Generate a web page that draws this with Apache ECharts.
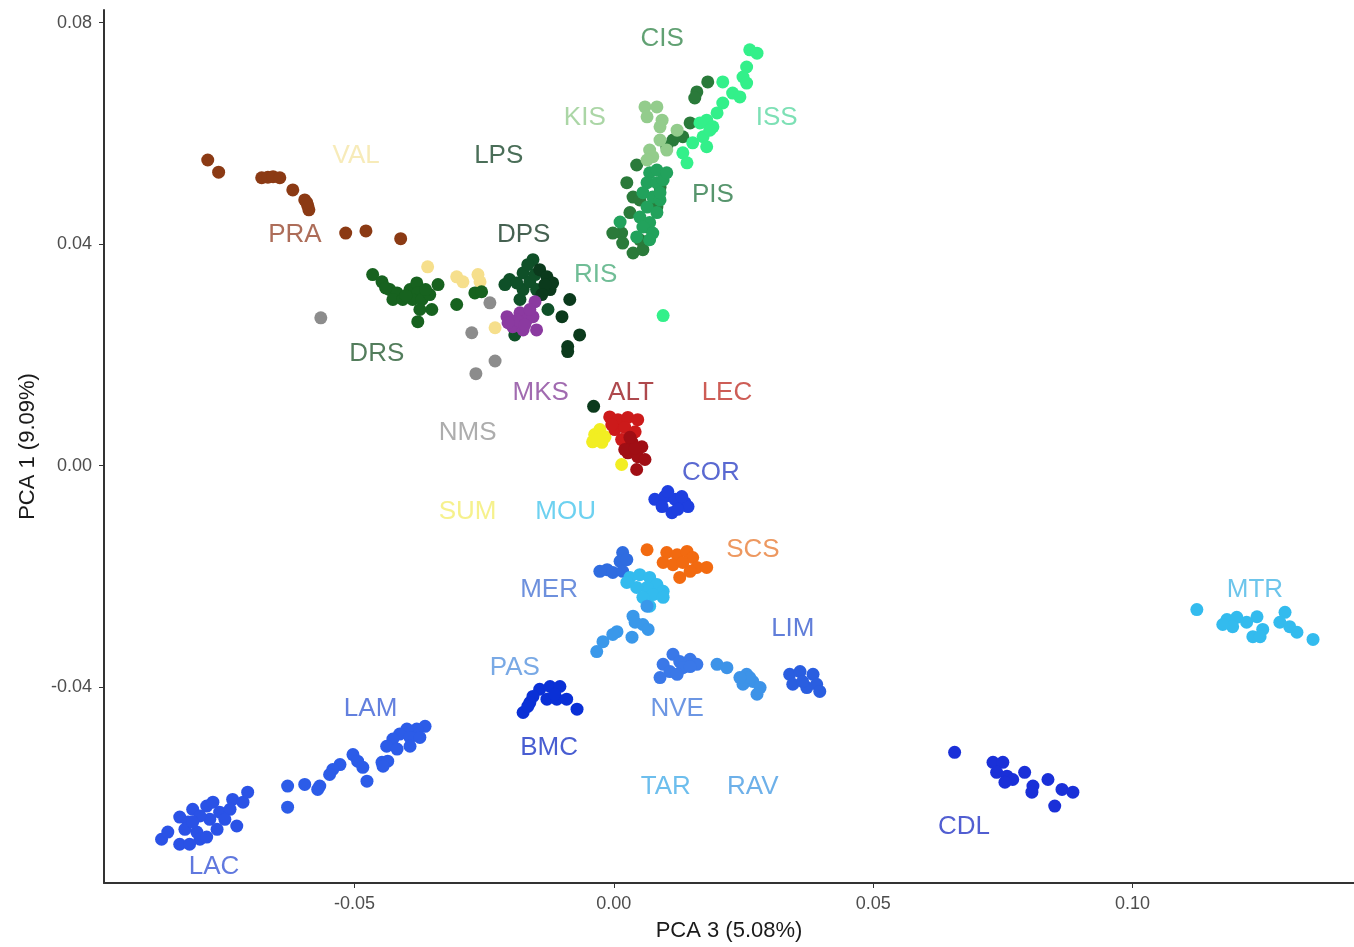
<!DOCTYPE html>
<html>
<head>
<meta charset="utf-8">
<title>PCA</title>
<script src="https://cdn.jsdelivr.net/npm/echarts@6/dist/echarts.min.js"></script>
<style>
  html, body { margin: 0; padding: 0; background: #fff; }
  #chart { width: 1354px; height: 947px; }
</style>
</head>
<body>
<div id="chart"></div>
<script>
// point coordinates per population: [PCA 3, PCA 1]
var PRA = [[-0.0783,0.0552],[-0.0762,0.0530],[-0.0679,0.0520],[-0.0667,0.0521],[-0.0657,0.0522],[-0.0644,0.0520],[-0.0619,0.0498],[-0.0596,0.0480],[-0.0590,0.0469],[-0.0588,0.0462],[-0.0592,0.0475],[-0.0517,0.0420],[-0.0478,0.0424],[-0.0411,0.0410]];
var VAL = [[-0.0359,0.0359],[-0.0303,0.0341],[-0.0291,0.0332],[-0.0262,0.0345],[-0.0258,0.0332],[-0.0229,0.0249]];
var NMS = [[-0.0565,0.0267],[-0.0239,0.0294],[-0.0274,0.0240],[-0.0229,0.0189],[-0.0266,0.0166]];
var DRS = [[-0.0465,0.0345],[-0.0447,0.0332],[-0.0432,0.0318],[-0.0418,0.0312],[-0.0426,0.0300],[-0.0407,0.0300],[-0.0393,0.0318],[-0.0380,0.0330],[-0.0378,0.0312],[-0.0388,0.0300],[-0.0370,0.0300],[-0.0374,0.0282],[-0.0351,0.0282],[-0.0339,0.0327],[-0.0355,0.0309],[-0.0378,0.0260],[-0.0303,0.0291],[-0.0268,0.0312],[-0.0255,0.0314],[-0.0440,0.0321],[-0.0401,0.0307],[-0.0363,0.0318]];
var DPS = [[-0.0156,0.0372],[-0.0201,0.0336],[-0.0175,0.0348],[-0.0175,0.0318],[-0.0187,0.0330],[-0.0162,0.0332],[-0.0149,0.0318],[-0.0127,0.0282],[-0.0191,0.0236],[-0.0166,0.0363],[-0.0210,0.0327],[-0.0181,0.0300],[-0.0152,0.0345]];
var LPS = [[-0.0143,0.0354],[-0.0129,0.0341],[-0.0123,0.0318],[-0.0118,0.0330],[-0.0133,0.0327],[-0.0085,0.0300],[-0.0066,0.0236],[-0.0089,0.0215],[-0.0089,0.0206],[-0.0039,0.0107],[-0.0100,0.0269],[-0.0139,0.0309]];
var MKS = [[-0.0206,0.0269],[-0.0195,0.0251],[-0.0181,0.0276],[-0.0168,0.0263],[-0.0156,0.0269],[-0.0149,0.0245],[-0.0175,0.0245],[-0.0187,0.0263],[-0.0152,0.0296],[-0.0162,0.0282],[-0.0204,0.0258],[-0.0172,0.0254]];
var CIS = [[0.0181,0.0693],[0.0160,0.0675],[0.0156,0.0664],[0.0147,0.0619],[0.0133,0.0594],[0.0114,0.0588],[0.0102,0.0576],[0.0044,0.0543],[0.0025,0.0511],[0.0037,0.0485],[0.0031,0.0457],[0.0015,0.0420],[-0.0002,0.0420],[0.0017,0.0402],[0.0037,0.0384],[0.0056,0.0390],[0.0050,0.0408],[0.0064,0.0431],[0.0083,0.0467],[0.0089,0.0503],[0.0050,0.0480]];
var PIS = [[0.0069,0.0529],[0.0083,0.0534],[0.0064,0.0511],[0.0083,0.0511],[0.0095,0.0516],[0.0056,0.0493],[0.0075,0.0485],[0.0089,0.0480],[0.0064,0.0467],[0.0083,0.0457],[0.0050,0.0449],[0.0069,0.0439],[0.0012,0.0440],[0.0056,0.0431],[0.0075,0.0420],[0.0044,0.0413],[0.0069,0.0408],[0.0089,0.0493],[0.0102,0.0529]];
var KIS = [[0.0060,0.0648],[0.0083,0.0648],[0.0064,0.0630],[0.0093,0.0624],[0.0089,0.0612],[0.0122,0.0606],[0.0089,0.0588],[0.0069,0.0570],[0.0102,0.0570],[0.0075,0.0558],[0.0064,0.0552]];
var ISS = [[0.0262,0.0751],[0.0276,0.0745],[0.0256,0.0720],[0.0249,0.0702],[0.0256,0.0691],[0.0210,0.0693],[0.0229,0.0673],[0.0243,0.0666],[0.0210,0.0655],[0.0199,0.0637],[0.0179,0.0624],[0.0166,0.0619],[0.0191,0.0612],[0.0172,0.0594],[0.0152,0.0583],[0.0179,0.0576],[0.0133,0.0565],[0.0141,0.0547],[0.0185,0.0606],[0.0095,0.0271]];
var SUM = [[-0.0037,0.0056],[-0.0027,0.0065],[-0.0041,0.0043],[-0.0023,0.0042],[-0.0017,0.0052],[0.0015,0.0002],[-0.0031,0.0047]];
var LEC = [[-0.0008,0.0088],[0.0008,0.0083],[0.0027,0.0087],[0.0046,0.0083],[0.0002,0.0065],[0.0021,0.0069],[0.0041,0.0061],[0.0015,0.0047],[-0.0004,0.0074]];
var ALT = [[0.0035,0.0042],[0.0054,0.0034],[0.0027,0.0023],[0.0046,0.0016],[0.0060,0.0011],[0.0044,-0.0007],[0.0021,0.0029],[0.0041,0.0032],[0.0031,0.0051]];
var COR = [[0.0079,-0.0061],[0.0098,-0.0056],[0.0118,-0.0061],[0.0137,-0.0067],[0.0143,-0.0074],[0.0112,-0.0085],[0.0093,-0.0074],[0.0123,-0.0079],[0.0104,-0.0047],[0.0131,-0.0056]];
var SCS = [[0.0064,-0.0152],[0.0102,-0.0157],[0.0122,-0.0161],[0.0141,-0.0155],[0.0152,-0.0166],[0.0095,-0.0175],[0.0114,-0.0179],[0.0133,-0.0175],[0.0160,-0.0184],[0.0179,-0.0184],[0.0127,-0.0202],[0.0147,-0.0191]];
var MER = [[0.0017,-0.0157],[0.0012,-0.0173],[-0.0013,-0.0188],[-0.0002,-0.0193],[0.0017,-0.0191],[-0.0027,-0.0191],[0.0025,-0.0170]];
var MOU = [[0.0031,-0.0202],[0.0050,-0.0197],[0.0069,-0.0202],[0.0083,-0.0215],[0.0095,-0.0227],[0.0064,-0.0220],[0.0044,-0.0220],[0.0075,-0.0233],[0.0095,-0.0238],[0.0025,-0.0211],[0.0056,-0.0238],[0.0069,-0.0254]];
var TAR = [[0.0064,-0.0254],[0.0037,-0.0272],[0.0056,-0.0287],[0.0066,-0.0296],[0.0041,-0.0283],[0.0006,-0.0300],[0.0035,-0.0310],[-0.0021,-0.0318],[-0.0033,-0.0336],[-0.0002,-0.0305]];
var NVE = [[0.0114,-0.0341],[0.0095,-0.0359],[0.0127,-0.0354],[0.0147,-0.0350],[0.0160,-0.0359],[0.0108,-0.0372],[0.0089,-0.0383],[0.0133,-0.0365],[0.0122,-0.0377],[0.0147,-0.0363]];
var RAV = [[0.0199,-0.0359],[0.0218,-0.0365],[0.0256,-0.0377],[0.0268,-0.0390],[0.0249,-0.0395],[0.0282,-0.0401],[0.0276,-0.0413],[0.0262,-0.0383],[0.0243,-0.0383]];
var LIM = [[0.0339,-0.0377],[0.0359,-0.0372],[0.0384,-0.0377],[0.0391,-0.0395],[0.0372,-0.0401],[0.0345,-0.0395],[0.0397,-0.0408],[0.0364,-0.0390]];
var BMC = [[-0.0143,-0.0404],[-0.0123,-0.0399],[-0.0104,-0.0399],[-0.0156,-0.0417],[-0.0129,-0.0422],[-0.0110,-0.0422],[-0.0091,-0.0422],[-0.0162,-0.0428],[-0.0071,-0.0440],[-0.0175,-0.0446],[-0.0166,-0.0435],[-0.0114,-0.0413]];
var LAM = [[-0.0364,-0.0471],[-0.0380,-0.0476],[-0.0399,-0.0476],[-0.0413,-0.0485],[-0.0393,-0.0491],[-0.0374,-0.0491],[-0.0426,-0.0494],[-0.0438,-0.0507],[-0.0418,-0.0512],[-0.0393,-0.0507],[-0.0447,-0.0536],[-0.0436,-0.0534],[-0.0445,-0.0543],[-0.0503,-0.0522],[-0.0494,-0.0534],[-0.0484,-0.0545],[-0.0476,-0.0570],[-0.0528,-0.0540],[-0.0542,-0.0549],[-0.0548,-0.0558],[-0.0567,-0.0579],[-0.0571,-0.0585],[-0.0596,-0.0576],[-0.0629,-0.0579],[-0.0629,-0.0617]];
var LAC = [[-0.0872,-0.0675],[-0.0860,-0.0662],[-0.0837,-0.0684],[-0.0837,-0.0635],[-0.0812,-0.0621],[-0.0821,-0.0644],[-0.0804,-0.0662],[-0.0785,-0.0615],[-0.0779,-0.0639],[-0.0765,-0.0657],[-0.0798,-0.0675],[-0.0760,-0.0626],[-0.0735,-0.0603],[-0.0740,-0.0621],[-0.0727,-0.0651],[-0.0715,-0.0608],[-0.0706,-0.0590],[-0.0818,-0.0684],[-0.0785,-0.0671],[-0.0750,-0.0639],[-0.0773,-0.0608],[-0.0798,-0.0633],[-0.0827,-0.0657],[-0.0812,-0.0644]];
var CDL = [[0.0657,-0.0518],[0.0731,-0.0536],[0.0750,-0.0536],[0.0738,-0.0554],[0.0758,-0.0561],[0.0769,-0.0567],[0.0792,-0.0554],[0.0808,-0.0579],[0.0806,-0.0590],[0.0837,-0.0567],[0.0864,-0.0585],[0.0885,-0.0590],[0.0850,-0.0615],[0.0754,-0.0572]];
var MTR = [[0.1124,-0.0260],[0.1182,-0.0278],[0.1201,-0.0274],[0.1220,-0.0283],[0.1240,-0.0273],[0.1251,-0.0296],[0.1232,-0.0309],[0.1246,-0.0309],[0.1193,-0.0291],[0.1294,-0.0265],[0.1284,-0.0283],[0.1303,-0.0291],[0.1317,-0.0301],[0.1348,-0.0314],[0.1174,-0.0287]];

// drawing order and colours
var groups = ['PRA','VAL','NMS','DRS','DPS','LPS','MKS','CIS','PIS','KIS','ISS','SUM','LEC','ALT','COR','SCS','MER','MOU','TAR','NVE','RAV','LIM','BMC','LAM','LAC','CDL','MTR'];
var groupData = {PRA:PRA,VAL:VAL,NMS:NMS,DRS:DRS,DPS:DPS,LPS:LPS,MKS:MKS,CIS:CIS,PIS:PIS,KIS:KIS,ISS:ISS,SUM:SUM,LEC:LEC,ALT:ALT,COR:COR,SCS:SCS,MER:MER,MOU:MOU,TAR:TAR,NVE:NVE,RAV:RAV,LIM:LIM,BMC:BMC,LAM:LAM,LAC:LAC,CDL:CDL,MTR:MTR};
var colors = {
  PRA:'#8b3a14', VAL:'#f6df8c', NMS:'#8c8c8c', DRS:'#17621f', DPS:'#0f5028', LPS:'#0b3a1c',
  MKS:'#8b3aa0', CIS:'#2a7a3a', PIS:'#22a25c', KIS:'#93cc8c', ISS:'#33f08a', RIS:'#3baa72',
  SUM:'#f2ee22', LEC:'#cc1a1a', ALT:'#a00e14', COR:'#1e3fe0', SCS:'#f26a10', MER:'#2f6ce0',
  MOU:'#33bbee', TAR:'#3a98ea', NVE:'#3a78e8', RAV:'#3d93e8', LIM:'#2a5ee0', PAS:'#4a8ae0',
  BMC:'#0a30d6', LAM:'#2c5ce8', LAC:'#2a52e6', CDL:'#1a30d8', MTR:'#33bbee'
};

// text labels: name and [PCA 3, PCA 1] of the label centre
var labelNames = ['CIS','KIS','ISS','VAL','LPS','PIS','PRA','DPS','RIS','DRS','MKS','ALT','LEC','NMS','COR','SUM','MOU','SCS','MER','MTR','LIM','PAS','NVE','LAM','BMC','TAR','RAV','CDL','LAC'];
var labelPos = [[0.0093,0.0771],[-0.0056,0.0628],[0.0314,0.0628],[-0.0497,0.0559],[-0.0222,0.0559],[0.0191,0.0489],[-0.0615,0.0417],[-0.0174,0.0417],[-0.0035,0.0345],[-0.0457,0.0202],[-0.0141,0.0132],[0.0033,0.0132],[0.0218,0.0132],[-0.0282,0.0060],[0.0187,-0.0013],[-0.0282,-0.0083],[-0.0093,-0.0083],[0.0268,-0.0153],[-0.0125,-0.0224],[0.1236,-0.0224],[0.0345,-0.0294],[-0.0191,-0.0366],[0.0122,-0.0439],[-0.0469,-0.0439],[-0.0125,-0.0509],[0.0100,-0.0581],[0.0268,-0.0581],[0.0675,-0.0653],[-0.0771,-0.0724]];
var labelColors = {
  CIS:'#3a8a50', KIS:'#96cc90', ISS:'#5cd8a2', VAL:'#f5e6a8', LPS:'#1d4a2e', PIS:'#2d7a48', PRA:'#98492f',
  DPS:'#173a26', RIS:'#4cac7c', DRS:'#285c33', MKS:'#8a469c', ALT:'#9a1c20', LEC:'#c0352c', NMS:'#999999',
  COR:'#3144c6', SUM:'#f4ee70', MOU:'#48c6ec', SCS:'#e87e38', MER:'#4874d4', MTR:'#48b6e6', LIM:'#3a5ecf',
  PAS:'#5894de', NVE:'#477cdc', LAM:'#3c60d6', BMC:'#1a34c6', TAR:'#48aee8', RAV:'#489ce4', CDL:'#2636c6', LAC:'#3856d6'
};

var chart = echarts.init(document.getElementById('chart'));
var fontFamily = '"Liberation Sans", Arial, sans-serif';

var series = [];
for (var i = 0; i < groups.length; i++) {
  var g = groups[i];
  series.push({
    name: g,
    type: 'scatter',
    data: groupData[g],
    symbolSize: 13,
    itemStyle: { color: colors[g], opacity: 1 },
    emphasis: { disabled: true },
    silent: true
  });
}

var labelData = [];
for (var j = 0; j < labelNames.length; j++) {
  labelData.push({
    name: labelNames[j],
    value: labelPos[j],
    label: { color: labelColors[labelNames[j]] }
  });
}
series.push({
  name: 'labels',
  type: 'scatter',
  data: labelData,
  symbolSize: 0,
  silent: true,
  z: 5,
  label: {
    show: true,
    position: 'inside',
    formatter: '{b}',
    fontSize: 26,
    fontFamily: fontFamily
  }
});

var option = {
  animation: false,
  backgroundColor: '#ffffff',
  grid: { left: 104, right: 0, top: 10, bottom: 63, containLabel: false },
  xAxis: {
    type: 'value',
    min: -0.0983,
    max: 0.1427,
    name: 'PCA 3 (5.08%)',
    nameLocation: 'middle',
    nameGap: 37,
    nameTextStyle: { fontSize: 22, color: '#1a1a1a', fontFamily: fontFamily },
    splitLine: { show: false },
    axisLine: { onZero: false, lineStyle: { color: '#333333', width: 2 } },
    axisTick: { show: true, length: 5, lineStyle: { color: '#333333' }, customValues: [-0.05, 0, 0.05, 0.1] },
    axisLabel: {
      margin: 12, fontSize: 18, color: '#4d4d4d', fontFamily: fontFamily,
      customValues: [-0.05, 0, 0.05, 0.1],
      formatter: function (v) { return v.toFixed(2); }
    }
  },
  yAxis: {
    type: 'value',
    min: -0.0754,
    max: 0.0823,
    name: 'PCA 1 (9.09%)',
    nameLocation: 'middle',
    nameGap: 65,
    nameTextStyle: { fontSize: 22, color: '#1a1a1a', fontFamily: fontFamily },
    splitLine: { show: false },
    axisLine: { show: true, onZero: false, lineStyle: { color: '#333333', width: 2 } },
    axisTick: { show: true, length: 5, lineStyle: { color: '#333333' }, customValues: [-0.04, 0, 0.04, 0.08] },
    axisLabel: {
      margin: 12, fontSize: 18, color: '#4d4d4d', fontFamily: fontFamily,
      customValues: [-0.04, 0, 0.04, 0.08],
      formatter: function (v) { return v.toFixed(2); }
    }
  },
  series: series
};

chart.setOption(option);
</script>
</body>
</html>
